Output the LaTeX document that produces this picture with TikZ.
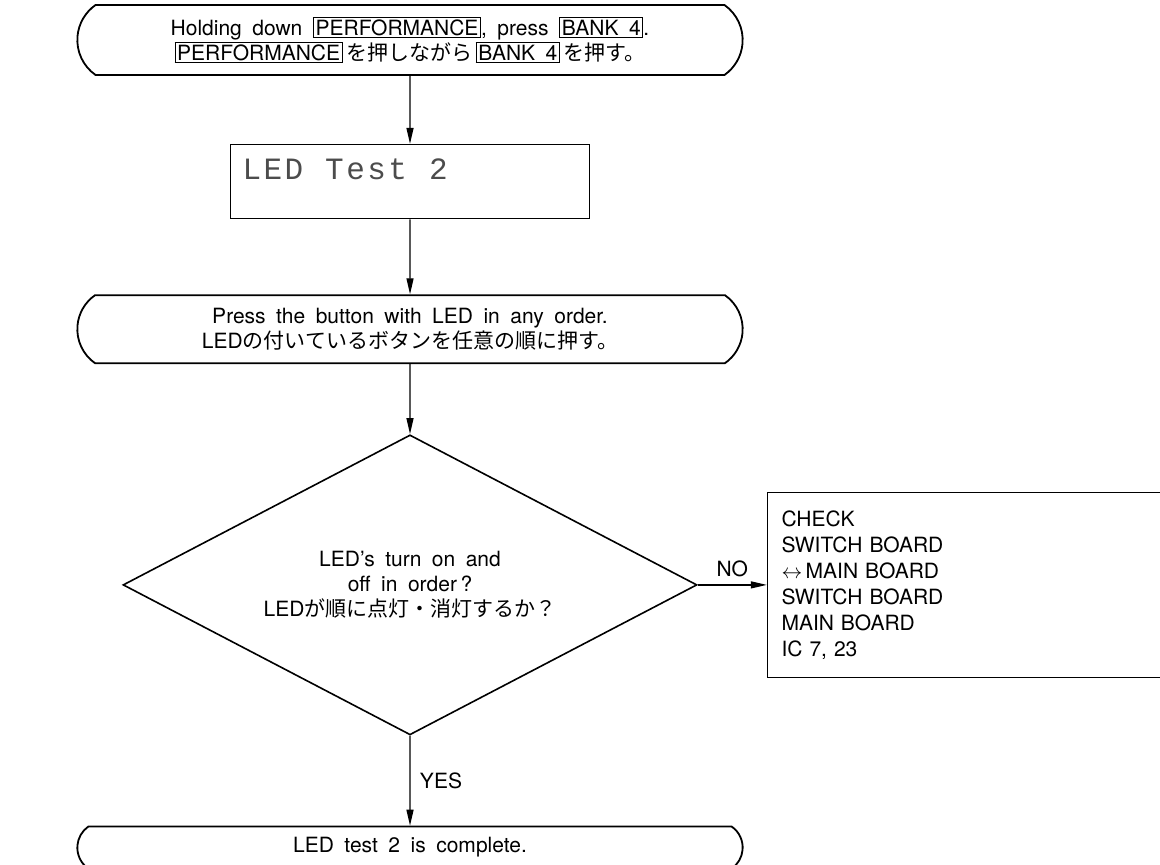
\documentclass[tikz,border=0pt]{standalone}
\usepackage{fontspec}
\setmainfont[WordSpace=1.8]{TeX Gyre Heros}
\newfontfamily\jpfont{Noto Sans CJK JP}
\newfontfamily\lcdfont[LetterSpace=8]{Liberation Mono}
\usetikzlibrary{arrows.meta,positioning,shapes.geometric,shapes.misc}
\setlength{\fboxsep}{1.5pt}
\setlength{\fboxrule}{1.2pt}
\newcommand{\keycap}[1]{\fbox{#1}}

\begin{document}
\begin{tikzpicture}[x=1pt,y=1pt,>={Triangle[length=16pt,width=7pt]},
                    every node/.style={font=\fontsize{21}{25}\selectfont},
                    terminal/.style={rounded rectangle,rounded rectangle arc length=110,draw,line width=1.8pt,minimum width=672pt,align=center},
                    decision/.style={diamond,draw,line width=1.6pt,aspect=1.9,minimum width=574pt,minimum height=300pt,inner sep=0pt,align=center},
                    display/.style={draw,line width=1.4pt,minimum width=359pt,minimum height=74pt,text width=335pt,align=left},
                    notebox/.style={draw,line width=1.4pt,minimum width=394pt,minimum height=185pt,text width=366pt,align=left},
                    flow/.style={->,line width=1.3pt}]
  \useasboundingbox (0,0) rectangle (1160,865);
  \node[terminal,minimum height=70pt] (start) at (410,825)
    {Holding down \keycap{PERFORMANCE}, press \keycap{BANK 4}.\\
     \keycap{PERFORMANCE}\,{\jpfont を押しながら}\,\keycap{BANK 4}\,{\jpfont を押す。}};
  \node[display] (lcd) [below=68pt of start]
    {\lcdfont\fontsize{31}{30}\selectfont\color{black!70}LED\hspace{22pt}Test\hspace{22pt}2\\\mbox{}};
  \node[terminal,minimum height=68pt] (press) [below=75pt of lcd]
    {Press the button with LED in any order.\\
     LED{\jpfont の付いているボタンを任意の順に押す。}};
  \node[decision] (check) [below=70pt of press]
    {LED's turn on and\\ off in order\,?\\ LED{\jpfont が順に点灯・消灯するか？}};
  \node[notebox,font=\fontsize{21}{26}\selectfont] (fix) [right=69pt of check]
    {CHECK\\ SWITCH BOARD\\ $\leftrightarrow$\,MAIN BOARD\\ SWITCH BOARD\\ MAIN BOARD\\ IC 7, 23};
  \node[terminal,minimum height=42pt] (done) [below=90pt of check]
    {LED test 2 is complete.};
  \path[flow]
    (start) edge (lcd)
    (lcd) edge (press)
    (press) edge (check)
    (check) edge node [above=4pt] {NO} (fix)
            edge node [right=6pt] {YES} (done);
\end{tikzpicture}
\end{document}
